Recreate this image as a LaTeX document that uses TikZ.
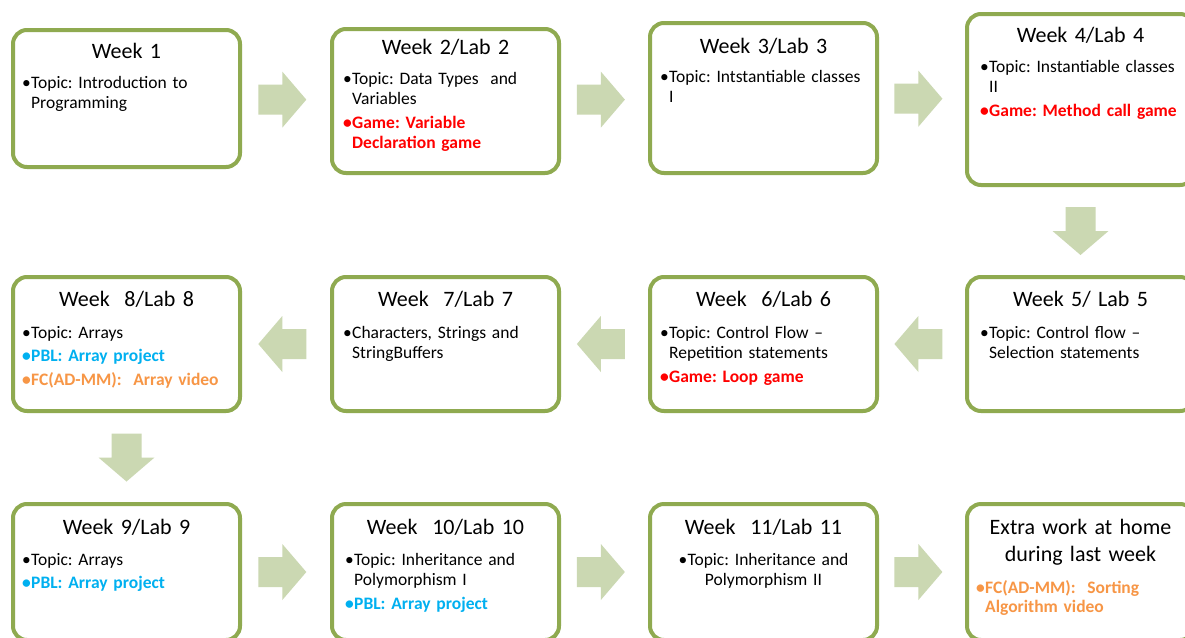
\documentclass[tikz,border=0pt]{standalone}
\usepackage{fontspec}
\setmainfont{Carlito}
\usetikzlibrary{calc}
\definecolor{gborder}{RGB}{143,170,80}
\definecolor{garrow}{RGB}{203,216,178}
\definecolor{gred}{RGB}{255,0,0}
\definecolor{gblue}{RGB}{0,176,240}
\definecolor{gorange}{RGB}{247,150,70}
\newcommand\bul{\makebox[9pt][l]{•}}
\newcommand\ind{\hspace*{9pt}}
\frenchspacing
\begin{document}
\begin{tikzpicture}[x=1pt,y=-1pt,
 wbox/.style={draw=gborder, line width=4pt, rounded corners=14pt, fill=white, minimum width=227pt, inner sep=0pt, outer sep=0pt},
 wtitle/.style={font=\fontsize{22}{27}\selectfont, anchor=base, inner sep=0pt, text width=225pt, align=center},
 wbody/.style={font=\fontsize{17.5}{20.5}\selectfont, anchor=base west, inner sep=0pt, text width=225pt, align=left},
 rarrow/.pic={\fill[garrow] (-24,-15) -- (0,-15) -- (0,-28) -- (24,0) -- (0,28) -- (0,15) -- (-24,15) -- cycle;},
 larrow/.pic={\fill[garrow] (24,-15) -- (0,-15) -- (0,-28) -- (-24,0) -- (0,28) -- (0,15) -- (24,15) -- cycle;},
 darrow/.pic={\fill[garrow] (-15,-24) -- (15,-24) -- (15,0) -- (28,0) -- (0,24) -- (-28,0) -- (-15,0) -- cycle;}
]
\useasboundingbox (0,0) rectangle (1185,637);
\clip (0,0) rectangle (1185,637);
\fill[white] (0,0) rectangle (1185,637);

% row 1
\node[wbox, minimum height=137pt] (b1) at (126.5,98.5) {};
\node[wbox, minimum height=144pt] (b2) at (445.5,101) {};
\node[wbox, minimum height=150pt] (b3) at (763.5,98) {};
\node[wbox, minimum height=171pt] (b4) at (1080.5,99.5) {};
% row 2
\node[wbox, minimum height=134pt] (b5) at (1080.5,344) {};
\node[wbox, minimum height=134pt] (b6) at (763.5,344) {};
\node[wbox, minimum height=134pt] (b7) at (445.5,344) {};
\node[wbox, minimum height=134pt] (b8) at (126.5,344) {};
% row 3
\node[wbox, minimum height=136pt] (b9) at (126.5,572) {};
\node[wbox, minimum height=136pt] (b10) at (445.5,572) {};
\node[wbox, minimum height=136pt] (b11) at (763.5,572) {};
\node[wbox, minimum height=136pt] (b12) at (1080.5,572) {};

% titles
\node[wtitle] (t1) at ($(b1.north)+(0,28)$) {Week 1};
\node[wtitle] (t2) at ($(b2.north)+(0,25)$) {Week 2/Lab 2};
\node[wtitle] (t3) at ($(b3.north)+(0,30)$) {Week 3/Lab 3};
\node[wtitle] (t4) at ($(b4.north)+(0,28)$) {Week 4/Lab 4};
\node[wtitle] (t5) at ($(b5.north)+(0,29)$) {Week 5/ Lab 5};
\node[wtitle] (t6) at ($(b6.north)+(0,29)$) {Week\ \ 6/Lab 6};
\node[wtitle] (t7) at ($(b7.north)+(0,29)$) {Week\ \ 7/Lab 7};
\node[wtitle] (t8) at ($(b8.north)+(0,29)$) {Week\ \ 8/Lab 8};
\node[wtitle] (t9) at ($(b9.north)+(0,30)$) {Week 9/Lab 9};
\node[wtitle] (t10) at ($(b10.north)+(0,30)$) {Week\ \ 10/Lab 10};
\node[wtitle] (t11) at ($(b11.north)+(0,30)$) {Week\ \ 11/Lab 11};
\node[wtitle] (t12) at ($(b12.north)+(0,30)$) {Extra work at home\\during last week};

% bodies
\node[wbody] (c1) at ($(b1.north west)+(9,58)$) {\bul Topic: Introduction to\\ \ind Programming};
\node[wbody] (c2) at ($(b2.north west)+(11,55)$) {\bul Topic: Data Types\ \ and\\ \ind Variables\\[3pt]
 {\color{gred}\bfseries\bul Game: Variable}\\ {\color{gred}\bfseries\ind Declaration game}};
\node[wbody] (c3) at ($(b3.north west)+(10,59)$) {\bul Topic: Intstantiable classes\\ \ind I};
\node[wbody] (c4) at ($(b4.north west)+(13,58)$) {\bul Topic: Instantiable classes\\ \ind II\\[3pt]
 {\color{gred}\bfseries\bul Game: Method call game}};
\node[wbody] (c5) at ($(b5.north west)+(13,61)$) {\bul Topic: Control flow –\\ \ind Selection statements};
\node[wbody] (c6) at ($(b6.north west)+(10,61)$) {\bul Topic: Control Flow –\\ \ind Repetition statements\\[3pt]
 {\color{gred}\bfseries\bul Game: Loop game}};
\node[wbody] (c7) at ($(b7.north west)+(11,61)$) {\bul Characters, Strings and\\ \ind StringBuffers};
\node[wbody] (c8) at ($(b8.north west)+(9,61)$) {\bul Topic: Arrays\\[3pt]
 {\color{gblue}\bfseries\bul PBL: Array project}\\[3pt]
 {\color{gorange}\bfseries\bul FC(AD-MM):\ \ Array video}};
\node[wbody] (c9) at ($(b9.north west)+(9,61)$) {\bul Topic: Arrays\\[3pt]
 {\color{gblue}\bfseries\bul PBL: Array project}};
\node[wbody] (c10) at ($(b10.north west)+(13,61)$) {\bul Topic: Inheritance and\\ \ind Polymorphism I\\[3pt]
 {\color{gblue}\bfseries\bul PBL: Array project}};
\node[wbody, anchor=base, align=center] (c11) at ($(b11.north)+(0,61)$) {\bul Topic: Inheritance and\\ Polymorphism II};
\node[wbody, font=\fontsize{17.5}{19}\selectfont] (c12) at ($(b12.north west)+(9,89)$) {{\color{gorange}\bfseries\bul FC(AD-MM):\ \ Sorting}\\ {\color{gorange}\bfseries\ind Algorithm video}};

% block arrows
\pic at ($(b1.east)!0.46!(b2.west)$) {rarrow};
\pic at ($(b2.east)!0.46!(b3.west)$) {rarrow};
\pic at ($(b3.east)!0.46!(b4.west)$) {rarrow};
\pic at ($(b4.south)!0.5!(b5.north)$) {darrow};
\pic at ($(b5.west)!0.54!(b6.east)$) {larrow};
\pic at ($(b6.west)!0.54!(b7.east)$) {larrow};
\pic at ($(b7.west)!0.54!(b8.east)$) {larrow};
\pic at ($(b8.south)!0.5!(b9.north)$) {darrow};
\pic at ($(b9.east)!0.46!(b10.west)$) {rarrow};
\pic at ($(b10.east)!0.46!(b11.west)$) {rarrow};
\pic at ($(b11.east)!0.46!(b12.west)$) {rarrow};
\end{tikzpicture}
\end{document}
